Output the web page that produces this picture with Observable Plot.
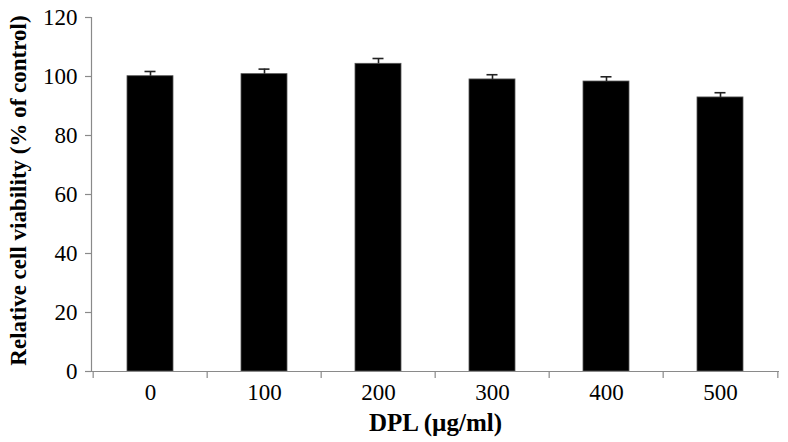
<!DOCTYPE html>
<html>
<head>
<meta charset="utf-8">
<script src="https://cdn.jsdelivr.net/npm/d3@7"></script>
<script src="https://cdn.jsdelivr.net/npm/@observablehq/plot@0.6"></script>
<style>
  html, body { margin: 0; padding: 0; background: #fff; }
  svg { font-family: "Liberation Serif", "Times New Roman", serif; }
</style>
</head>
<body>
<div id="chart"></div>
<script>
const doses = ["0", "100", "200", "300", "400", "500"];
const viability = [100.1, 100.8, 104.3, 99.0, 98.3, 92.9];
const errors = [1.6, 1.7, 1.8, 1.6, 1.6, 1.6];
const yTicks = [0, 20, 40, 60, 80, 100, 120];

const data = doses.map((d, i) => ({dose: d, value: viability[i], err: errors[i]}));

const W = 788, H = 442, mL = 91, mR = 9, mT = 17, mB = 71;
const step = (W - mL - mR) / doses.length;
const axisColor = "#8a8a8a";

const plot = Plot.plot({
  width: W,
  height: H,
  marginLeft: mL,
  marginRight: mR,
  marginTop: mT,
  marginBottom: mB,
  style: {fontFamily: "'Liberation Serif', 'Times New Roman', serif", fontSize: "23px", color: "#000", background: "#fff"},
  x: {domain: doses, paddingInner: 0.6, paddingOuter: 0.3, label: null},
  y: {domain: [0, 120], label: null},
  marks: [
    Plot.barY(data, {x: "dose", y: "value", fill: "#000", stroke: "#555", strokeWidth: 0.8}),
    Plot.ruleX(data, {x: "dose", y1: "value", y2: d => d.value + d.err, stroke: "#222", strokeWidth: 1.6}),
    Plot.tickY(data, {x: "dose", y: d => d.value + d.err, stroke: "#222", strokeWidth: 1.6, insetLeft: 17.5, insetRight: 17.5}),
    Plot.frame({anchor: "left", stroke: axisColor, strokeWidth: 1.2}),
    Plot.ruleY([0], {stroke: axisColor, strokeWidth: 1.2}),
    Plot.ruleX(doses, {x: d => d, y1: 0, y2: 0, dx: -step / 2, insetBottom: -7, stroke: axisColor, strokeWidth: 1.2}),
    Plot.ruleX(doses.slice(-1), {x: d => d, y1: 0, y2: 0, dx: step / 2, insetBottom: -7, stroke: axisColor, strokeWidth: 1.2}),
    Plot.axisY({ticks: yTicks, tickSize: 6, tickPadding: 8, stroke: axisColor, strokeWidth: 1.2, fill: "#000", fontSize: 23, label: null}),
    Plot.axisX({tickSize: 0, tickPadding: 12, fill: "#000", fontSize: 23, label: null}),
    Plot.text(["DPL (µg/ml)"], {frameAnchor: "bottom", dy: 59, fontSize: 25, fontWeight: "bold", fill: "#000", textAnchor: "middle"}),
    Plot.text(["Relative cell viability (% of control)"], {frameAnchor: "left", dx: -73, dy: -4, rotate: -90, fontSize: 23, fontWeight: "bold", fill: "#000", textAnchor: "middle"})
  ]
});
document.getElementById("chart").appendChild(plot);
</script>
</body>
</html>
